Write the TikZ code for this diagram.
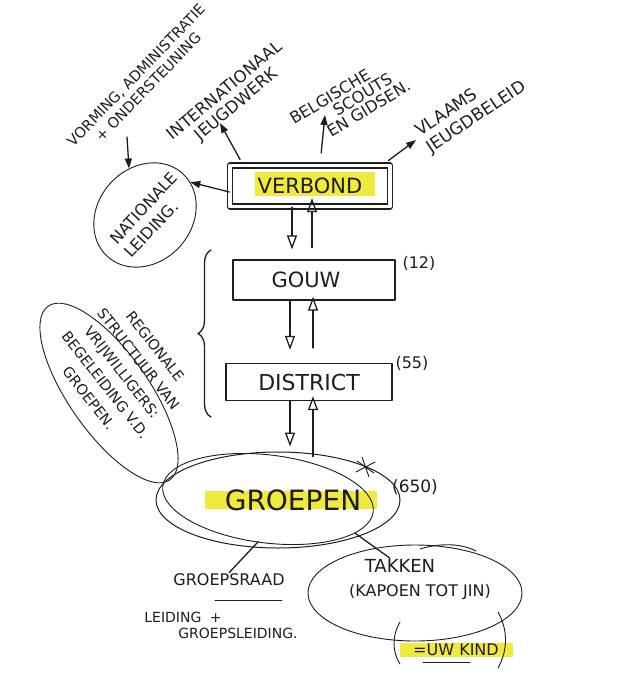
\documentclass[tikz,border=0pt]{standalone}
\usepackage{fontspec}
\setmainfont{DejaVu Sans}
\usetikzlibrary{arrows.meta,shapes.geometric,decorations.pathreplacing}
\definecolor{ink}{RGB}{30,30,30}
\definecolor{hl}{RGB}{240,233,62}
\newcommand{\myfs}[2]{\fontsize{#1}{#2}\selectfont}
\begin{document}
\begin{tikzpicture}[x=1pt,y=-1pt,
  pen/.style={draw=ink, line width=1.3pt, line cap=round, line join=round},
  thinpen/.style={draw=ink, line width=0.9pt, line cap=round, line join=round},
  txt/.style={text=ink, inner sep=1pt, font=\myfs{15}{18}},
  arr/.style={pen, -{Triangle[length=10pt,width=7pt]}},
  oarr/.style={pen, -{Triangle[open,length=14pt,width=10pt]}},
  box/.style={pen, rectangle, inner sep=0pt, text=ink},
  ell/.style={thinpen, ellipse, inner sep=0pt},
]
\fill[white] (0,0) rectangle (640,677);
\useasboundingbox (0,0) rectangle (640,677);

% highlights
\fill[hl] (255,172) rectangle (375,196);
\fill[hl] (205,491) rectangle (377,509);
\fill[hl] (400,643) rectangle (513,657);

% boxes
\node[box, double, double distance=3.5pt, minimum width=160pt, minimum height=41pt, font=\myfs{21}{24}] (verbond) at (310,186) {VERBOND};
\node[box, minimum width=162pt, minimum height=40pt, font=\myfs{21}{24}] (gouw) at (314,280) {\hspace*{-16pt}GOUW};
\node[box, minimum width=166pt, minimum height=37pt, font=\myfs{22}{24}] (district) at (309,382) {DISTRICT};

% groepen
\node[ell, line width=1pt, minimum width=244pt, minimum height=96pt] (groepen) at (278,500) {};
\draw[thinpen, rotate around={-7:(268,499)}] (268,499) ellipse [x radius=106pt, y radius=44pt];
\node[txt, font=\myfs{28}{30}] (groepentxt) at (293,500) {GROEPEN};
\draw[thinpen] (356,472) -- (375,462) (357,461) -- (374,473) (362,457) -- (369,477);
\node[txt, font=\myfs{17}{18}] (n650) at (415,487) {(650)};
\node[txt, font=\myfs{16}{18}] (n12) at (419,263) {(12)};
\node[txt, font=\myfs{16}{18}] (n55) at (412,363) {(55)};

% brace
\draw[pen, decorate, decoration={brace, amplitude=13pt}] (211,417) -- (211,250);

% takken
\node[ell, minimum width=214pt, minimum height=96pt] (takell) at (415,593) {};
\draw[thinpen] (420,549) .. controls (440,543) and (460,543) .. (476,551);
\node[txt, font=\myfs{18}{20}] (takken) at (400,566) {TAKKEN};
\node[txt, font=\myfs{16}{18}] (kapoen) at (420,592) {(KAPOEN TOT JIN)};
\node[txt, font=\myfs{16}{18}] (uwkind) at (456,650) {=UW KIND};
\draw[thinpen] (400,622) .. controls (392,635) and (392,652) .. (400,664);
\draw[thinpen] (498,612) .. controls (508,630) and (508,650) .. (498,668);
\draw[thinpen] (423,662) -- (470,662);

% groepsraad
\node[txt, font=\myfs{16}{18}] (groepsraad) at (229,580) {GROEPSRAAD};
\draw[thinpen] (215,600) -- (282,600);
\node[txt, align=left, font=\myfs{14}{16}] (leiding) at (221,625) {LEIDING\hspace{0.6em}+\\\hspace*{34pt}GROEPSLEIDING.};

% nationale leiding
\node[ell, minimum width=112pt, minimum height=94pt, rotate=48] (nat) at (145,215) {};
\node[txt, rotate=47, align=left, font=\myfs{16}{20}] (nattxt) at (151,215) {NATIONALE\\LEIDING.};

% regionale structuur
\node[ell, minimum width=212pt, minimum height=80pt, rotate=-55] (regell) at (109,393) {};
\node[txt, rotate=-52, align=center, font=\myfs{14.5}{21}] (regtxt) at (122,372) {REGIONALE\\STRUCTUUR VAN\\VRIJWILLIGERS:\\BEGELEIDING V.D.\\GROEPEN.};

% top annotations
\node[txt, rotate=46, align=center, font=\myfs{14.5}{17}] (vorming) at (142,81) {VORMING, ADMINISTRATIE\\+ ONDERSTEUNING};
\node[txt, rotate=40, align=center, font=\myfs{16.5}{18}] (intl) at (231,98) {INTERNATIONAAL\\JEUGDWERK};
\node[txt, rotate=31, align=left, font=\myfs{16}{15}] (belg) at (350,102) {BELGISCHE\\\hspace*{2.6em}SCOUTS\\\hspace*{1.6em}EN GIDSEN.};
\node[txt, rotate=34, align=left, font=\myfs{17}{20}] (vlaams) at (471,109) {VLAAMS\\JEUGDBELEID};

\coordinate (vormtail) at (127,137);
\coordinate (intltip) at (220,123);
\coordinate (belgtip) at (325,115);
\coordinate (vlaamstip) at (416,140);

% annotation arrows
\draw[arr] (vormtail) -- (nat.61);
\draw[arr, shorten <=6pt] ([xshift=-67pt]verbond.north) -- (intltip);
\draw[arr, shorten <=12pt] ([xshift=10pt]verbond.north) -- (belgtip);
\draw[arr, shorten <=7pt] ([xshift=-8pt]verbond.north east) -- (vlaamstip);
\draw[arr] ([yshift=-6pt]verbond.west) -- (nat.-12);

% hierarchy arrows
\draw[oarr, shorten >=10pt] ([xshift=-18pt]verbond.south) -- ([xshift=-22pt]gouw.north);
\draw[oarr, shorten <=12pt, shorten >=-9pt] ([xshift=-2pt]gouw.north) -- ([xshift=2pt]verbond.south);
\draw[oarr, shorten >=13pt] ([xshift=-24pt]gouw.south) -- ([xshift=-19pt]district.north);
\draw[oarr, shorten <=15pt, shorten >=-4pt] ([xshift=4pt]district.north) -- ([xshift=-1pt]gouw.south);
\draw[oarr, shorten >=5pt] ([xshift=-19pt]district.south) -- ([xshift=12pt]groepen.north);
\draw[oarr, shorten <=-5pt, shorten >=-5pt] ([xshift=35pt]groepen.north) -- ([xshift=4pt]district.south);

% groepen connectors
\draw[pen, shorten <=-8pt] (groepen.-118) -- (groepsraad.north);
\draw[pen, shorten <=-5pt] (groepen.-24) -- ([xshift=-10pt]takken.north);
\end{tikzpicture}
\end{document}
